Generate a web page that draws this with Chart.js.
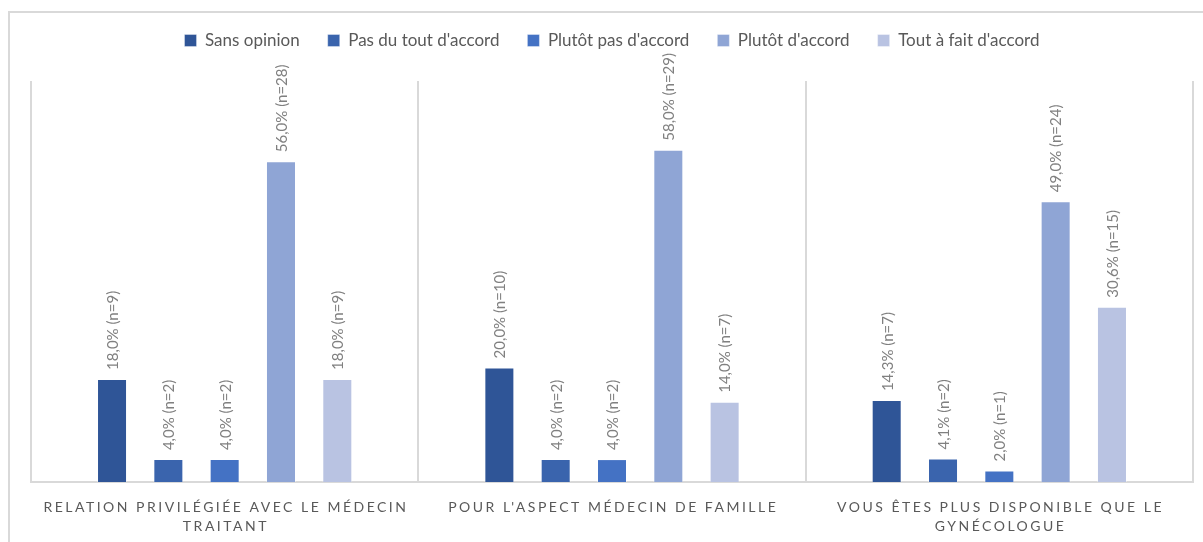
<!DOCTYPE html>
<html><head><meta charset="utf-8">
<script src="https://cdn.jsdelivr.net/npm/chart.js@4.4.1/dist/chart.umd.min.js"></script>
<style>html,body{margin:0;padding:0;background:#fff}#wrap{width:1203px;height:542px;position:relative;overflow:hidden}</style>
</head><body><div id="wrap"><canvas id="c" width="1203" height="542"></canvas></div>
<script>
const categories = [
  ["RELATION PRIVILÉGIÉE AVEC LE MÉDECIN", "TRAITANT"],
  ["POUR L'ASPECT MÉDECIN DE FAMILLE"],
  ["VOUS ÊTES PLUS DISPONIBLE QUE LE", "GYNÉCOLOGUE"]
];
const seriesNames = ["Sans opinion", "Pas du tout d'accord", "Plutôt pas d'accord", "Plutôt d'accord", "Tout à fait d'accord"];
const sansOpinion = [18.0, 20.0, 14.3];
const sansOpinionN = [9, 10, 7];
const pasDuTout = [4.0, 4.0, 4.1];
const pasDuToutN = [2, 2, 2];
const plutotPas = [4.0, 4.0, 2.0];
const plutotPasN = [2, 2, 1];
const plutotAccord = [56.0, 58.0, 49.0];
const plutotAccordN = [28, 29, 24];
const toutAFait = [18.0, 14.0, 30.6];
const toutAFaitN = [9, 7, 15];
const colors = ["#2F5597", "#3A64AD", "#4472C4", "#8FA5D5", "#B9C3E2"];

const values = [sansOpinion, pasDuTout, plutotPas, plutotAccord, toutAFait];
const counts = [sansOpinionN, pasDuToutN, plutotPasN, plutotAccordN, toutAFaitN];

const FONT = "Lato, 'Open Sans', sans-serif";

const frame = {
  id: 'frame',
  beforeDraw(chart) {
    const ctx = chart.ctx;
    ctx.save();
    ctx.strokeStyle = '#d9d9d9';
    ctx.lineWidth = 2;
    ctx.strokeRect(9, 12, 1210, 600);
    ctx.restore();
  }
};

const legendGap = {
  id: 'legendGap',
  beforeInit(chart) {
    const orig = chart.legend.fit;
    chart.legend.fit = function () {
      orig.bind(chart.legend)();
      this.height += 22;
    };
  }
};

const dataLabels = {
  id: 'dataLabels',
  afterDatasetsDraw(chart) {
    const ctx = chart.ctx;
    ctx.save();
    ctx.fillStyle = '#808080';
    ctx.font = "15px " + FONT;
    ctx.textAlign = 'left';
    ctx.textBaseline = 'middle';
    chart.data.datasets.forEach((ds, di) => {
      const meta = chart.getDatasetMeta(di);
      meta.data.forEach((el, i) => {
        const v = ds.data[i];
        const txt = v.toFixed(1).replace('.', ',') + '% (n=' + counts[di][i] + ')';
        ctx.save();
        ctx.translate(el.x + 1, el.y - 9);
        ctx.rotate(-Math.PI / 2);
        ctx.fillText(txt, 0, 0);
        ctx.restore();
      });
    });
    ctx.restore();
  }
};

const xLabels = {
  id: 'xLabels',
  afterDraw(chart) {
    const ctx = chart.ctx;
    const xs = chart.scales.x;
    const bottom = chart.chartArea.bottom;
    const sp = 2.5;
    ctx.save();
    ctx.fillStyle = '#595959';
    ctx.font = "14px " + FONT;
    ctx.letterSpacing = sp + 'px';
    ctx.textAlign = 'center';
    ctx.textBaseline = 'middle';
    categories.forEach((lines, i) => {
      const x = xs.getPixelForValue(i) + sp / 2;
      lines.forEach((ln, k) => {
        ctx.fillText(ln, x, bottom + 25 + k * 19);
      });
    });
    ctx.restore();
  }
};

new Chart(document.getElementById('c'), {
  type: 'bar',
  data: {
    labels: categories.map(c => c.join(' ')),
    datasets: seriesNames.map((name, i) => ({
      label: name,
      data: values[i],
      backgroundColor: colors[i],
      borderColor: 'rgba(255,255,255,0.35)',
      borderWidth: 1,
      categoryPercentage: 0.727,
      barPercentage: 0.533
    }))
  },
  options: {
    responsive: false,
    animation: false,
    devicePixelRatio: 1,
    layout: { padding: { left: 31, right: 10, top: 4, bottom: 60 } },
    plugins: {
      legend: {
        position: 'top',
        align: 'center',
        labels: {
          boxWidth: 12, boxHeight: 12, padding: 28,
          color: '#595959',
          font: { family: FONT, size: 17 }
        }
      },
      tooltip: { enabled: false }
    },
    scales: {
      x: {
        grid: { display: true, offset: true, color: '#d9d9d9', lineWidth: 2, drawTicks: false },
        border: { display: true, color: '#d9d9d9', width: 2 },
        ticks: { display: false }
      },
      y: { display: false, min: 0, max: 70 }
    }
  },
  plugins: [frame, legendGap, dataLabels, xLabels]
});
</script>
</body></html>
